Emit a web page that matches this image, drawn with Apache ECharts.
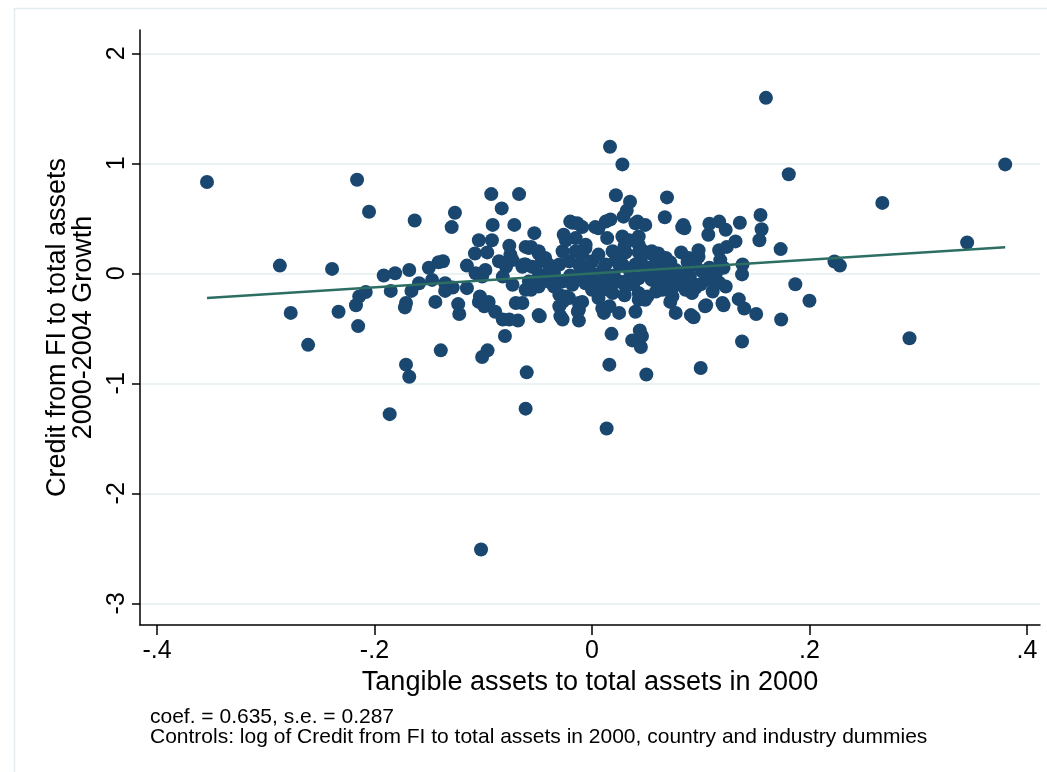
<!DOCTYPE html>
<html>
<head>
<meta charset="utf-8">
<script src="https://cdn.jsdelivr.net/npm/echarts@6/dist/echarts.min.js"></script>
<style>html,body{margin:0;padding:0;background:#fff;}#chart{width:1047px;height:772px;}</style>
</head>
<body>
<div id="chart"></div>
<script>
// ---- data ----
const xTicks = [-0.4, -0.2, 0, 0.2, 0.4];
const xTickLabels = ['-.4', '-.2', '0', '.2', '.4'];
const yTicks = [-3, -2, -1, 0, 1, 2];
const yTickLabels = ['-3', '-2', '-1', '0', '1', '2'];
const xTitle = 'Tangible assets to total assets in 2000';
const yTitleLines = ['Credit from FI to total assets', '2000-2004 Growth'];
const noteLines = ['coef. = 0.635, s.e. = 0.287',
  'Controls: log of Credit from FI to total assets in 2000, country and industry dummies'];

// tangible assets ratio (x), credit growth (y)
const tangible = [
 -0.354,-0.287,-0.277,-0.261,-0.239,-0.233,-0.216,-0.205,-0.217,-0.215,-0.214,-0.208,-0.1915,-0.181,-0.186,-0.185,
 -0.171,-0.168,-0.171,-0.172,-0.168,-0.166,-0.163,-0.159,-0.150,-0.147,-0.144,-0.141,-0.139,-0.137,-0.135,-0.128,
 -0.135,-0.126,-0.129,-0.123,-0.122,-0.115,-0.115,-0.107,-0.098,-0.101,-0.1076,-0.0963,-0.104,-0.092,-0.104,-0.099,
 -0.103,-0.095,-0.102,-0.101,-0.096,-0.0926,-0.0913,-0.089,-0.083,-0.080,-0.082,-0.076,-0.068,-0.0855,-0.079,-0.082,
 -0.076,-0.075,-0.073,-0.073,-0.0714,-0.070,-0.064,-0.067,-0.061,-0.061,-0.061,-0.060,-0.061,-0.064,-0.055,-0.058,
 -0.053,-0.056,-0.049,-0.049,-0.046,-0.043,-0.0625,-0.052,-0.040,-0.058,-0.049,-0.040,-0.056,-0.049,-0.048,-0.030,
 -0.021,-0.012,-0.027,-0.015,-0.006,-0.026,-0.015,-0.024,-0.018,-0.020,-0.009,-0.0135,-0.027,-0.018,-0.006,-0.030,
 -0.021,-0.009,-0.027,-0.027,-0.029,-0.030,-0.024,-0.012,-0.013,-0.012,-0.012,-0.009,-0.0058,0.0003,0.003,0.003,
 0.006,0.006,0.006,0.0095,0.011,0.0126,0.0126,0.014,0.016,0.016,0.0135,0.016,0.018,0.0166,0.017,0.019,
 0.019,0.022,0.025,0.025,0.025,0.025,0.028,0.028,0.029,0.028,0.031,0.031,0.031,0.032,0.035,0.034,
 0.037,0.040,0.040,0.040,0.042,0.043,0.043,0.043,0.043,0.043,0.043,0.044,0.046,0.045,0.046,0.049,
 0.049,0.050,0.051,0.052,0.054,0.055,0.055,0.059,0.061,0.062,0.065,0.067,0.068,0.068,0.069,0.072,
 0.074,0.077,0.077,0.080,0.082,0.083,0.084,0.085,0.083,0.086,0.089,0.089,0.091,0.092,0.092,0.0935,
 0.095,0.098,0.098,0.100,0.101,0.104,0.105,0.105,0.107,0.108,0.111,0.114,0.117,0.117,0.117,0.118,
 0.120,0.121,0.121,0.123,0.123,0.124,0.132,0.135,0.136,0.138,0.1385,0.138,0.140,0.151,0.154,0.155,
 0.156,0.160,0.1735,0.174,0.181,0.187,0.200,0.223,0.228,0.267,0.292,0.345,0.380,
 -0.035,-0.020,0.000,0.010,0.020,0.035,0.050,0.060,0.070,0.080,0.090,-0.045,0.000,0.015,0.030,0.065,
 0.075,-0.010,-0.035,0.100,0.110,
 -0.005,0.012,0.045,0.058,0.072,0.088,-0.038,-0.015,0.022,0.038,0.095,0.108,-0.050,0.005,0.062,0.030
];
const growth = [
 0.83,0.07,-0.36,-0.65,0.04,-0.35,0.85,0.56,-0.29,-0.48,-0.21,-0.17,-0.02,0.00,-1.28,-0.16,
 -0.83,-0.94,-0.27,-0.31,0.03,-0.16,0.48,-0.09,0.05,-0.06,-0.26,0.10,-0.70,0.11,-0.09,-0.13,
 -0.16,0.55,0.42,-0.28,-0.37,0.07,-0.135,0.00,0.03,-0.03,0.18,0.19,0.30,0.30,-0.26,-0.30,
 -0.21,-0.26,-2.51,-0.76,-0.70,0.72,0.44,-0.35,0.59,-0.57,-0.42,-0.42,-0.43,0.11,0.06,-0.03,
 0.25,0.17,0.12,-0.105,0.44,-0.27,-0.27,0.72,0.24,0.08,-0.15,-0.90,-1.23,0.06,0.06,0.23,
 0.365,0.24,0.18,0.20,0.12,0.14,0.08,0.05,0.08,-0.075,-0.12,-0.075,-0.15,-0.38,-0.39,0.08,
 0.11,0.08,0.20,0.20,0.23,0.35,0.32,0.30,0.46,0.47,0.42,0.455,-0.075,-0.105,-0.09,-0.195,
 -0.225,-0.26,-0.26,-0.42,-0.39,-0.30,-0.21,-0.43,-0.35,-0.27,-0.33,0.17,0.26,0.11,-0.075,0.42,
 0.41,0.17,-0.225,-0.32,-0.36,0.08,0.47,0.32,-0.105,-0.30,-1.41,-0.83,-0.55,1.15,0.49,0.20,
 -0.18,0.71,0.14,0.08,-0.075,-0.36,0.99,0.335,0.515,0.08,-0.12,0.19,-0.075,0.57,0.65,0.30,
 -0.61,0.455,0.08,-0.35,0.47,0.335,0.26,0.19,-0.045,-0.18,-0.24,-0.52,-0.57,-0.67,0.21,0.44,
 -0.24,-0.92,-0.21,0.05,0.18,0.20,-0.06,-0.165,0.18,-0.12,0.05,0.51,0.14,-0.075,0.69,-0.26,
 -0.21,0.03,-0.36,-0.075,0.19,0.42,0.44,0.41,-0.09,-0.15,0.05,0.14,-0.38,-0.09,-0.18,-0.40,
 -0.135,0.21,0.15,-0.86,0.02,-0.30,-0.06,-0.29,0.35,0.45,-0.165,0.00,0.47,0.21,-0.085,0.12,
 -0.27,-0.29,0.05,-0.12,0.395,0.24,0.29,-0.235,0.46,-0.62,0.08,-0.01,-0.32,-0.37,0.30,0.53,
 0.40,1.595,0.22,-0.42,0.90,-0.10,-0.25,0.107,0.07,0.64,-0.59,0.28,0.99,
 0.00,-0.02,0.00,0.03,-0.02,0.02,0.00,0.03,-0.02,0.00,-0.03,-0.02,-0.15,-0.15,-0.20,-0.15,
 -0.12,0.00,-0.12,-0.10,-0.05,
 0.05,-0.05,0.10,0.08,0.10,0.10,0.03,-0.06,0.12,-0.10,0.08,0.05,-0.05,-0.13,-0.04,0.25
];
// fitted line endpoints
const fitX = [-0.354, 0.380];
const fitY = [-0.225, 0.238];

// ---- build chart ----
const points = tangible.map((x, i) => [x, growth[i]]);
const fitLine = fitX.map((x, i) => [x, fitY[i]]);
const fmtX = v => { const i = xTicks.findIndex(t => Math.abs(t - v) < 1e-9); return i >= 0 ? xTickLabels[i] : ''; };
const fmtY = v => { const i = yTicks.findIndex(t => Math.abs(t - v) < 1e-9); return i >= 0 ? yTickLabels[i] : ''; };

const chart = echarts.init(document.getElementById('chart'), null, {renderer: 'canvas'});
const font = '"Liberation Sans", Arial, sans-serif';
chart.setOption({
  animation: false,
  backgroundColor: '#ffffff',
  graphic: [{
    type: 'rect', left: 12, top: 6, shape: {width: 1100, height: 800},
    style: {fill: 'none', stroke: '#e4ebef', lineWidth: 1.5}, z: -1, silent: true
  }],
  title: {
    text: noteLines.join('\n'), left: 145, top: 702,
    textStyle: {fontFamily: font, fontSize: 21, fontWeight: 'normal', color: '#000', lineHeight: 20}
  },
  grid: {left: 140, top: 30, width: 900, height: 595, containLabel: false},
  xAxis: {
    type: 'value', min: -0.4156, max: 0.412,
    axisLine: {show: true, onZero: false, lineStyle: {color: '#000', width: 1.5}},
    axisTick: {show: true, customValues: xTicks, length: 10, lineStyle: {color: '#000', width: 1.5}},
    axisLabel: {customValues: xTicks, formatter: fmtX, fontFamily: font, fontSize: 25, color: '#000', margin: 14},
    splitLine: {show: false},
    name: xTitle, nameLocation: 'middle', nameGap: 43,
    nameTextStyle: {fontFamily: font, fontSize: 27, color: '#000'}
  },
  yAxis: {
    type: 'value', min: -3.197, max: 2.212,
    axisLine: {show: true, onZero: false, lineStyle: {color: '#000', width: 1.5}},
    axisTick: {show: true, customValues: yTicks, length: 8, lineStyle: {color: '#000', width: 1.5}},
    axisLabel: {customValues: yTicks, formatter: fmtY, rotate: 90, fontFamily: font, fontSize: 25, color: '#000', margin: 10},
    splitLine: {show: true, lineStyle: {color: '#eaf2f3', width: 2}},
    name: yTitleLines.join('\n'), nameLocation: 'middle', nameRotate: 90, nameGap: 38,
    nameTextStyle: {fontFamily: font, fontSize: 27, color: '#000', lineHeight: 26, align: 'center'}
  },
  series: [{
    type: 'scatter', data: points, symbol: 'circle', symbolSize: 14,
    itemStyle: {color: '#1a476f', opacity: 1}, z: 2
  }, {
    type: 'line', data: fitLine, symbol: 'none', z: 3,
    lineStyle: {color: '#2d6e63', width: 2.5}
  }]
});
</script>
</body>
</html>
